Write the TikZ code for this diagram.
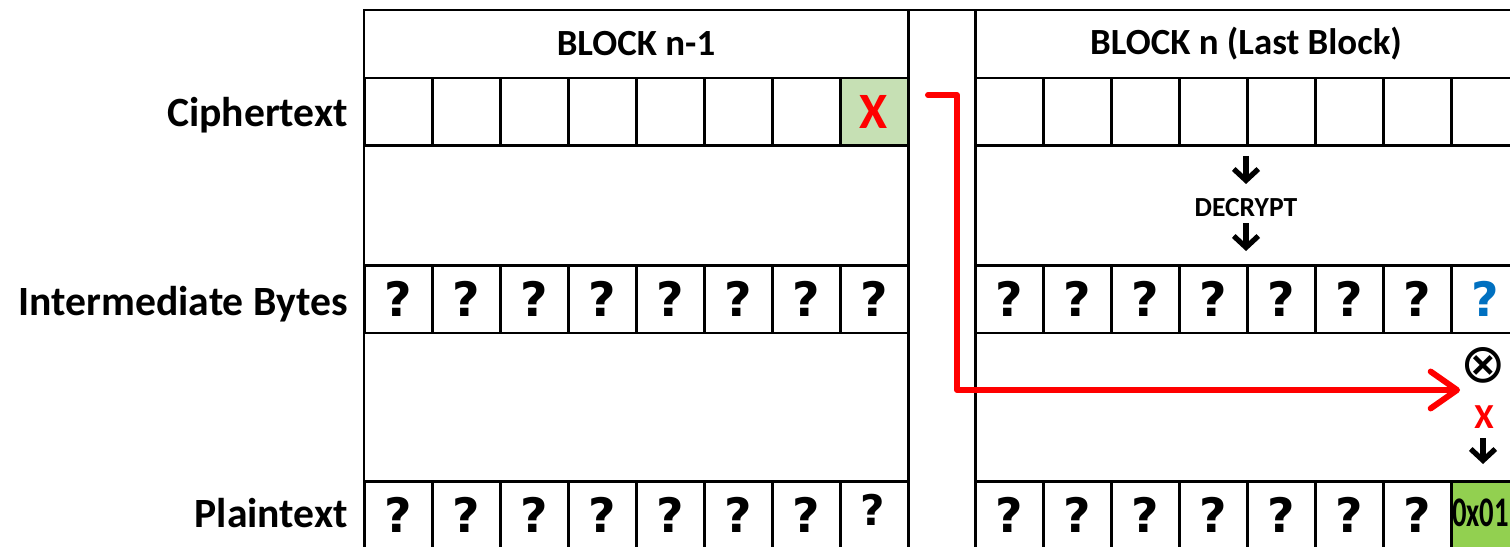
\documentclass[tikz,border=0pt]{standalone}
\usepackage{fontspec}
\setmainfont{Carlito}
\newfontfamily\qfont{DejaVu Sans}
\usetikzlibrary{arrows.meta}
\definecolor{lgreen}{HTML}{C6E0B4}
\definecolor{bgreen}{HTML}{92D050}
\definecolor{qblue}{HTML}{0070C0}
\definecolor{xred}{HTML}{FF0000}
\tikzset{
  gridline/.style={draw=black, line width=1.7pt},
  cell/.style={gridline, minimum width=1.36cm, minimum height=1.36cm, inner sep=0pt},
  qmark/.style={font=\qfont\bfseries\fontsize{27}{27}\selectfont},
  rowlbl/.style={anchor=base east, inner sep=0pt, font=\bfseries\fontsize{23.7}{24}\selectfont},
  hdr/.style={inner sep=0pt, font=\bfseries\fontsize{21}{22}\selectfont},
  bigx/.style={text=xred, font=\bfseries\fontsize{29}{29}\selectfont},
  redarrow/.style={draw=xred, line width=3.4pt, line join=round, line cap=round,
    -{Straight Barb[length=15pt,width=21pt,round]}},
  downarrow/.style={draw=black, line width=3pt, -{Straight Barb[length=6.5pt,width=14pt]}}
}
\begin{document}
\begin{tikzpicture}[x=0.02cm,y=-0.02cm]
\useasboundingbox (0,0) rectangle (1510,547);
\clip (0,0) rectangle (1510,547);
% row labels
\node[rowlbl] (lab-c) at (348,127) {Ciphertext};
\node[rowlbl] (lab-i) at (348,315) {Intermediate Bytes};
\node[rowlbl] (lab-p) at (348,527) {Plaintext};
% block frames
\draw[gridline] (364,10) rectangle (908,600);
\draw[gridline] (975,10) rectangle (1560,600);
\draw[gridline] (364,10) -- (1560,10);
\draw[gridline] (364,78) -- (908,78);
\draw[gridline] (975,78) -- (1560,78);
% headers
\node[hdr] (h1) at (636,44) {BLOCK n-1};
\node[hdr] (h2) at (1246,44) {BLOCK n (Last Block)};
% left block cells
\foreach \i in {0,...,6} {
  \node[cell] (lc\i) at ({398+68*\i},112) {};
  \node[cell, qmark] (li\i) at ({398+68*\i},299) {?};
  \node[cell, qmark] (lp\i) at ({398+68*\i},515) {?};
}
\node[cell, fill=lgreen, bigx] (lc7) at (874,112) {X};
\node[cell, qmark] (li7) at (874,299) {?};
\node[cell] (lp7) at (874,515) {};
\node[qmark, font=\qfont\bfseries\fontsize{24}{24}\selectfont] (lp7q) at (873,510) {?};
% right block cells
\foreach \i in {0,...,6} {
  \node[cell] (rc\i) at ({1009+68*\i},112) {};
  \node[cell, qmark] (ri\i) at ({1009+68*\i},299) {?};
  \node[cell, qmark] (rp\i) at ({1009+68*\i},515) {?};
}
\node[cell] (rc7) at (1485,112) {};
\node[cell, qmark, text=qblue] (ri7) at (1485,299) {?};
\node[cell, fill=bgreen] (rp7) at (1485,515) {};
\node[anchor=west, inner sep=0pt, xscale=0.68, font=\bfseries\fontsize{24}{24}\selectfont] (ox) at (1452,513) {0x01};
% decrypt
\node[font=\bfseries\fontsize{15.7}{16}\selectfont, inner sep=0pt] (dec) at (1246,208) {DECRYPT};
\coordinate (d1a) at (1246,156);
\coordinate (d1b) at (1246,184);
\coordinate (d2a) at (1246,223);
\coordinate (d2b) at (1246,251);
\draw[downarrow] (d1a) -- (d1b);
\draw[downarrow] (d2a) -- (d2b);
% xor
\node[inner sep=0pt, font=\qfont\fontsize{31}{31}\selectfont] (xor) at (1483,365) {⊗};
\node[inner sep=0pt, text=xred, font=\bfseries\fontsize{20}{20}\selectfont] (sx) at (1484,417) {X};
\coordinate (d3a) at (1483,438);
\coordinate (d3b) at (1483,464);
\draw[downarrow] (d3a) -- (d3b);
% red arrow
\coordinate (rs) at (928,95);
\coordinate (re) at (1460,390);
\draw[redarrow] (rs) -- (957,95) |- (re);
\end{tikzpicture}
\end{document}
